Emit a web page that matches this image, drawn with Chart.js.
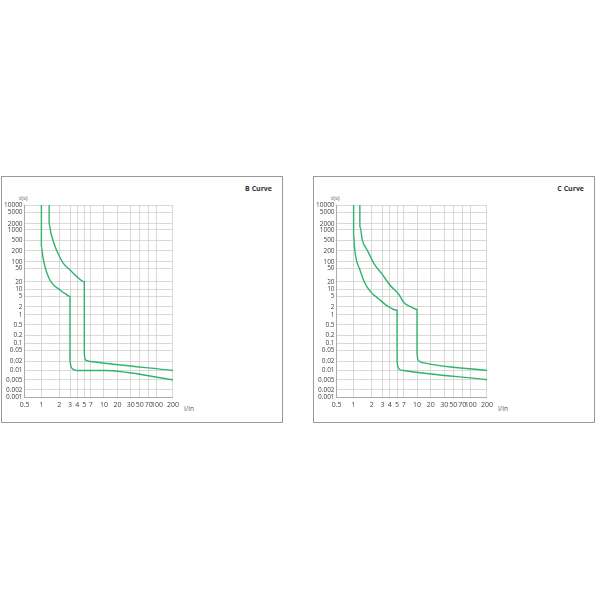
<!DOCTYPE html>
<html><head><meta charset="utf-8">
<script src="https://cdn.jsdelivr.net/npm/chart.js@4"></script>
<style>
body{margin:0;background:#fff;font-family:"Open Sans",sans-serif;}
.panel{position:absolute;top:176px;width:282px;height:247px;border:1px solid #999;box-sizing:border-box;}
.ttl{position:absolute;top:7px;right:10px;font-size:7px;font-weight:bold;color:#333;}
.ts{position:absolute;top:17px;left:17px;font-size:6px;color:#555;}
.iin{position:absolute;top:227px;font-size:6.5px;color:#555;}
canvas{position:absolute;}
</style></head><body>
<div class="panel" style="left:1px"><div class="ttl">B Curve</div><div class="ts">t(s)</div><div class="iin" style="left:182px">I/In</div>
<div style="position:absolute;left:0;top:20px;width:180px;height:215px"><canvas id="cB"></canvas></div></div>
<div class="panel" style="left:313px"><div class="ttl">C Curve</div><div class="ts">t(s)</div><div class="iin" style="left:184px">I/In</div>
<div style="position:absolute;left:0;top:20px;width:182px;height:215px"><canvas id="cC"></canvas></div></div>
<script>
// axis ticks (real values) and their relative positions on the printed grid
const xTicks = [0.5, 1, 2, 3, 4, 5, 7, 10, 20, 30, 50, 70, 100, 200];
const xPos = [0, 47, 97, 127, 147, 167, 185, 222, 260, 297, 322, 347, 370, 415];
const yTicks = [0.001, 0.002, 0.005, 0.01, 0.02, 0.05, 0.1, 0.2, 0.5, 1, 2, 5, 10, 20, 50, 100, 200, 500, 1000, 2000, 5000, 10000];
const yPos = [0, 24, 54, 82, 109, 142, 164, 188, 220, 250, 274, 306, 327, 350, 390, 410, 444, 475, 507, 525, 559, 582];

// B curve: [I/In, t(s)]
const bLower = [[1,10000],[1,1000],[1,300],[1.05,150],[1.15,60],[1.35,25],[1.6,15],[2,10],[2.5,6.5],[3,5],[3,0.02],[3.1,0.014],[3.4,0.011],[4,0.01],[10,0.01],[200,0.005]];
const bUpper = [[1.35,10000],[1.35,2000],[1.45,800],[1.65,350],[1.9,170],[2.3,90],[3,45],[4,28],[5,20],[5,0.04],[5.1,0.028],[5.5,0.022],[7,0.02],[200,0.01]];
// C curve
const cLower = [[1,10000],[1,800],[1.03,300],[1.1,120],[1.25,50],[1.5,20],[1.9,8],[2.6,4],[3.5,2.3],[5,1.5],[5,0.02],[5.15,0.014],[5.6,0.011],[7,0.01],[200,0.005]];
const cUpper = [[1.27,10000],[1.27,1500],[1.4,500],[1.7,200],[2.2,80],[2.9,35],[4,15],[5.5,6],[7,3],[8.5,2],[10,1.6],[10,0.04],[10.3,0.025],[11.5,0.02],[14,0.018],[200,0.01]];

function toPos(v, ticks, pos) {
  const lv = Math.log(v);
  for (let i = 0; i < ticks.length - 1; i++) {
    const a = Math.log(ticks[i]), b = Math.log(ticks[i + 1]);
    if (lv <= b || i === ticks.length - 2) {
      return pos[i] + (lv - a) / (b - a) * (pos[i + 1] - pos[i]);
    }
  }
}
const pts = arr => arr.map(p => ({x: toPos(p[0], xTicks, xPos), y: toPos(p[1], yTicks, yPos)}));

function makeChart(id, series) {
  const grid = {color: '#c8c8c8', lineWidth: 0.7, drawTicks: false};
  new Chart(document.getElementById(id), {
    type: 'scatter',
    data: {datasets: series.map(s => ({data: pts(s), showLine: true, borderColor: '#2fb46e', borderWidth: 1.4, pointRadius: 0, tension: 0.3, cubicInterpolationMode: 'monotone'}))},
    options: {
      responsive: true, maintainAspectRatio: false, animation: false,
      layout: {padding: {left: 0, right: 8, top: 8, bottom: 0}},
      plugins: {legend: {display: false}, tooltip: {enabled: false}},
      scales: {
        x: {type: 'linear', min: 0, max: 415, grid: grid, border: {color: '#aaa'},
          afterBuildTicks: ax => { ax.ticks = xPos.map(v => ({value: v})); },
          ticks: {autoSkip: false, maxRotation: 0, padding: 3, color: '#444', font: {size: 7, family: 'Open Sans'},
            callback: (v, i) => String(xTicks[i])}},
        y: {type: 'linear', min: 0, max: 582, grid: grid, border: {color: '#aaa'},
          afterBuildTicks: ax => { ax.ticks = yPos.map(v => ({value: v})); },
          ticks: {autoSkip: false, padding: 2, color: '#444', font: {size: 6.5, family: 'Open Sans'},
            callback: (v, i) => String(yTicks[i])}}
      }
    }
  });
}
makeChart('cB', [bLower, bUpper]);
makeChart('cC', [cLower, cUpper]);
</script></body></html>
